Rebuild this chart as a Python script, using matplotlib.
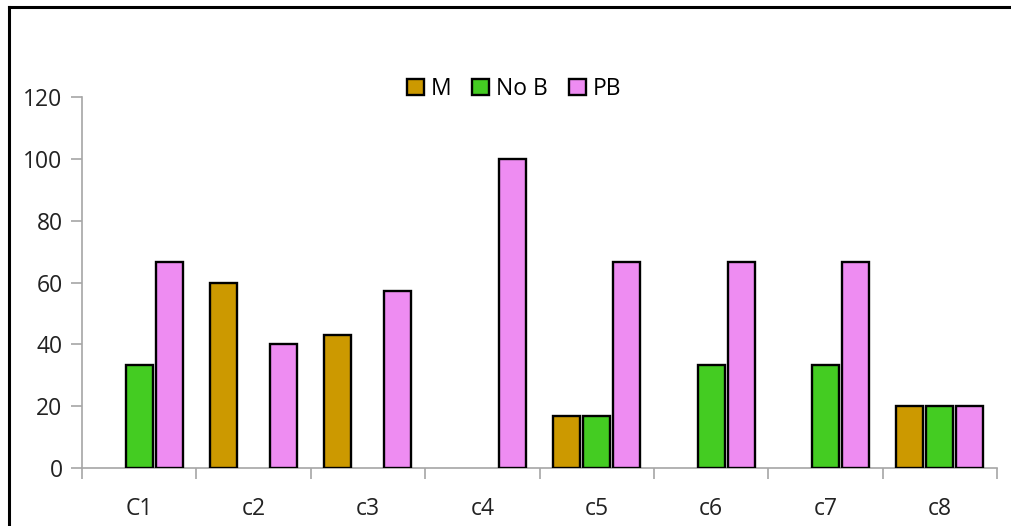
import matplotlib.pyplot as plt
import numpy as np
from matplotlib.lines import Line2D

categories = ["C1", "c2", "c3", "c4", "c5", "c6", "c7", "c8"]
m_vals = [0, 60, 42.9, 0, 16.7, 0, 0, 20]
nob_vals = [33.3, 0, 0, 0, 16.7, 33.3, 33.3, 20]
pb_vals = [66.7, 40, 57.1, 100, 66.7, 66.7, 66.7, 20]
series_names = ["M", "No B", "PB"]
colors = ["#CC9900", "#44CC22", "#EE8CF2"]

plt.rcParams["font.family"] = ["Open Sans", "DejaVu Sans"]

fig = plt.figure(figsize=(10.11, 5.26), dpi=100)
ax = fig.add_axes([82 / 1011, 1 - 468 / 526, (997 - 82) / 1011, (468 - 97) / 526])

x = np.arange(len(categories))
width = 0.236
step = 0.262
for i, (vals, name, color) in enumerate(zip([m_vals, nob_vals, pb_vals], series_names, colors)):
    v = np.array(vals)
    mask = v > 0
    ax.bar(x[mask] + (i - 1) * step, v[mask], width=width, color=color,
           edgecolor="black", linewidth=1.7, label=name, zorder=3)

ax.set_xlim(-0.5, len(categories) - 0.5)
ax.set_ylim(0, 120)
ax.set_yticks(np.arange(0, 121, 20))
ax.set_xticks(x)
ax.set_xticklabels(categories)
ax.set_xticks(np.arange(-0.5, len(categories)), minor=True)
ax.tick_params(axis="x", which="major", length=0, pad=21, labelsize=16.5, colors="#222222")
ax.tick_params(axis="x", which="minor", length=8, width=1.2, color="#a6a6a6")
ax.tick_params(axis="y", length=8, width=1.2, color="#a6a6a6", pad=6, labelsize=16.5, labelcolor="#222222")

for side in ["top", "right"]:
    ax.spines[side].set_visible(False)
for side in ["left", "bottom"]:
    ax.spines[side].set_color("#a6a6a6")
    ax.spines[side].set_linewidth(1.2)

handles, labels = ax.get_legend_handles_labels()
fig.legend(handles, labels, loc="center", bbox_to_anchor=(514 / 1011, 1 - 89 / 526),
           ncol=3, frameon=False, fontsize=16.5, handlelength=0.75, handleheight=0.75,
           handletextpad=0.3, columnspacing=0.9)

# outer frame (left and top edges only)
fig.add_artist(Line2D([8.5 / 1011, 8.5 / 1011], [0, 1 - 6.5 / 526], color="black", linewidth=2.2,
                      transform=fig.transFigure))
fig.add_artist(Line2D([8.5 / 1011, 1], [1 - 6.5 / 526, 1 - 6.5 / 526], color="black", linewidth=2.2,
                      transform=fig.transFigure))

fig.savefig("out.png", dpi=100)
